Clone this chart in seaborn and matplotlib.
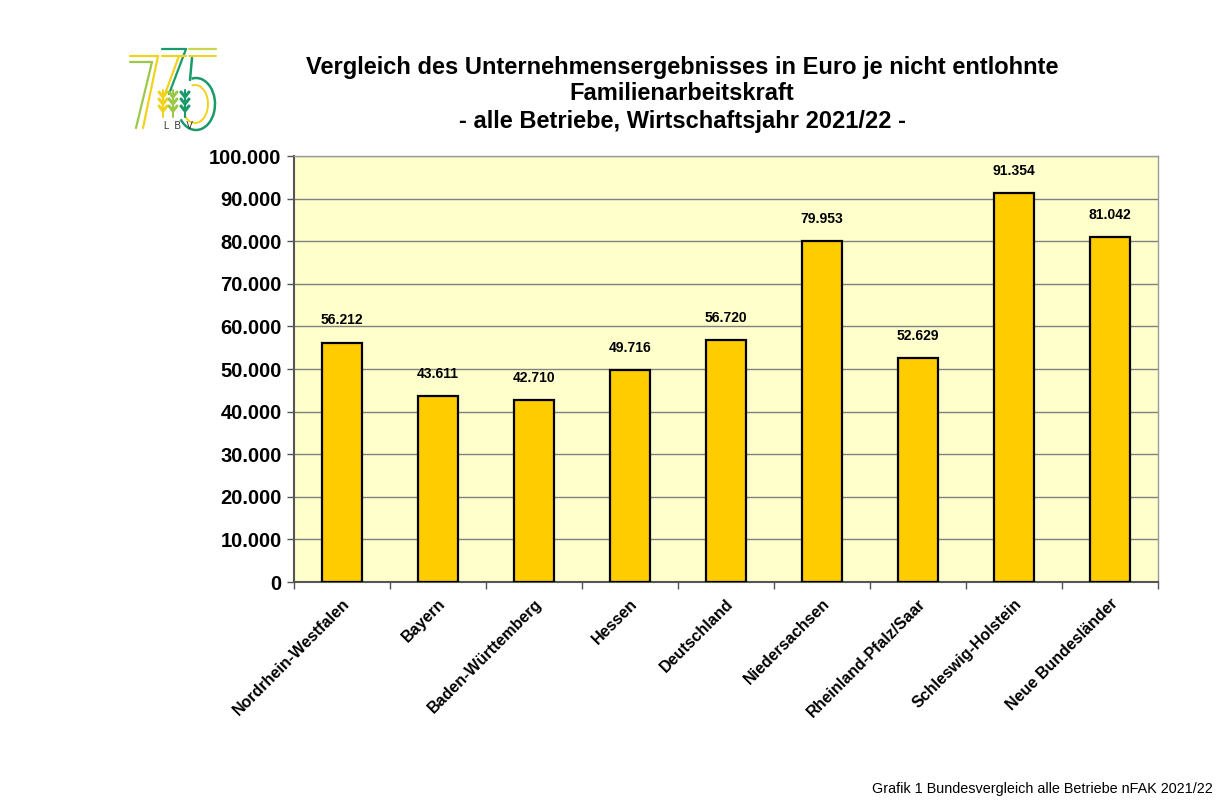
import matplotlib
matplotlib.use("Agg")
import matplotlib.pyplot as plt
import matplotlib.ticker as mticker
from matplotlib.patches import Arc
import seaborn as sns
import pandas as pd
import numpy as np

regions = ["Nordrhein-Westfalen", "Bayern", "Baden-Württemberg", "Hessen", "Deutschland",
           "Niedersachsen", "Rheinland-Pfalz/Saar", "Schleswig-Holstein", "Neue Bundesländer"]
values = [56212, 43611, 42710, 49716, 56720, 79953, 52629, 91354, 81042]
title_lines = ["Vergleich des Unternehmensergebnisses in Euro je nicht entlohnte",
               "Familienarbeitskraft",
               "- alle Betriebe, Wirtschaftsjahr 2021/22 -"]
footnote = "Grafik 1 Bundesvergleich alle Betriebe nFAK 2021/22"

sns.set_theme(style="white")
plt.rcParams['font.family'] = ['Liberation Sans', 'DejaVu Sans']
plt.rcParams['text.color'] = 'black'
plt.rcParams['xtick.color'] = 'black'
plt.rcParams['ytick.color'] = 'black'

df = pd.DataFrame({"region": regions, "value": values})

fig = plt.figure(figsize=(12.21, 8.08), dpi=100)
ax = fig.add_axes([0.2408, 0.2797, 0.7076, 0.5272])
ax.set_facecolor("#FFFFCC")

sns.barplot(data=df, x="region", y="value", color="#FFCC00", width=0.42,
            edgecolor="black", linewidth=1.6, saturation=1, ax=ax, zorder=3)

ax.set_ylim(0, 100000)
ax.set_xlim(-0.5, len(regions) - 0.5)
ax.yaxis.set_major_locator(mticker.MultipleLocator(10000))
ax.yaxis.set_major_formatter(mticker.FuncFormatter(lambda v, p: f"{int(v):,}".replace(",", ".")))
ax.grid(axis="y", color="#808080", linewidth=1.0, zorder=0)
ax.set_axisbelow(True)
ax.set_xlabel("")
ax.set_ylabel("")

for s in ["top", "right"]:
    ax.spines[s].set_color("#9a9a9a")
    ax.spines[s].set_linewidth(1.0)
for s in ["left", "bottom"]:
    ax.spines[s].set_color("#555555")
    ax.spines[s].set_linewidth(1.5)

ax.tick_params(axis="y", which="major", left=True, length=5, width=1, color="#555555",
               labelsize=14.5, pad=4, labelcolor="black")
for lab in ax.get_yticklabels():
    lab.set_fontweight("bold")

ax.set_xticks(range(len(regions)))
ax.set_xticklabels(regions, rotation=45, ha="right", rotation_mode="anchor",
                   fontsize=11.5, fontweight="bold", color="black")
ax.tick_params(axis="x", which="major", length=0, pad=10)
ax.set_xticks(np.arange(-0.5, len(regions), 1.0), minor=True)
ax.tick_params(axis="x", which="minor", bottom=True, length=5, width=1, color="#555555")

for i, v in enumerate(values):
    ax.annotate(f"{v:,}".replace(",", "."), (i, v), xytext=(0, 11), textcoords="offset points",
                ha="center", va="bottom", fontsize=10, fontweight="bold", color="black")

ys = [0.917, 0.884, 0.850]
for t, y in zip(title_lines, ys):
    fig.text(0.5586, y, t, ha="center", va="center", fontsize=17, fontweight="bold", color="black")

fig.text(0.9935, 0.0235, footnote, ha="right", va="center", fontsize=10.4, color="black")

# logo approximation (decorative), in pixel-like coordinates of a small inset
lg = fig.add_axes([125 / 1221, 1 - 135 / 808, 95 / 1221, 90 / 808])
lg.set_xlim(125, 220)
lg.set_ylim(135, 45)
lg.axis("off")
G, Y, T, LG = "#9cc84a", "#f2d21c", "#1a9a6a", "#c8d84a"
# left "7"s
lg.plot([130, 158], [56, 56], color=Y, lw=1.6)
lg.plot([158, 143], [56, 128], color=Y, lw=1.6)
lg.plot([130, 152], [62, 62], color=G, lw=1.6)
lg.plot([152, 136], [62, 128], color=G, lw=1.6)
# middle "7"s
lg.plot([162, 186], [49, 49], color=T, lw=1.6)
lg.plot([186, 169], [49, 94], color=T, lw=1.6)
lg.plot([162, 186], [56, 56], color=Y, lw=1.6)
lg.plot([179, 165], [56, 94], color=Y, lw=1.6)
# "5"
lg.plot([189, 216], [49, 49], color=LG, lw=1.6)
lg.plot([189, 216], [56, 56], color=Y, lw=1.4)
lg.plot([192, 190], [58, 80], color=T, lw=1.8)
lg.add_patch(Arc((196, 104), 38, 52, theta1=-100, theta2=135, color=T, lw=1.8))
lg.add_patch(Arc((195, 104), 26, 38, theta1=-100, theta2=130, color=Y, lw=1.4))
# wheat
for x0, c in [(163, Y), (173, G), (185, T)]:
    lg.plot([x0, x0], [90, 117], color=c, lw=1.5)
    for yy in [92, 99, 106]:
        lg.plot([x0 - 4, x0, x0 + 4], [yy, yy + 5, yy], color=c, lw=2.2)
lg.text(178, 126, "L  B  V", fontsize=7, color="#333333", ha="center", va="center")

fig.savefig("out.png", dpi=100)
